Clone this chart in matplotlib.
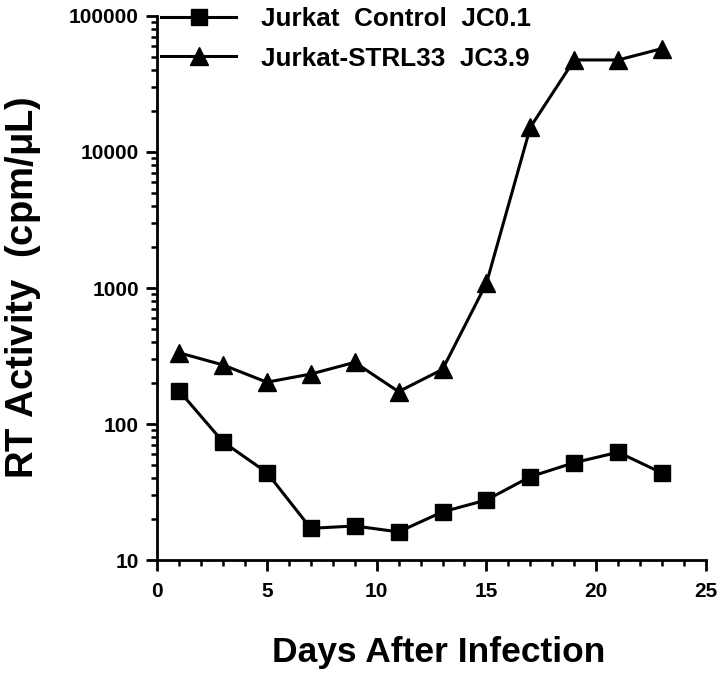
import matplotlib.pyplot as plt
import numpy as np
from matplotlib.ticker import LogLocator, MultipleLocator, FuncFormatter

plt.rcParams['font.family'] = ['Liberation Sans', 'DejaVu Sans']
plt.rcParams['font.weight'] = 'bold'

days = [1, 3, 5, 7, 9, 11, 13, 15, 17, 19, 21, 23]
control = [176, 74, 44, 17.1, 17.8, 16.1, 22.6, 27.6, 41, 52, 62, 43.6]
strl33 = [334, 272, 203, 233, 284, 173, 252, 1083, 15200, 47500, 47500, 57600]
labels = ['Jurkat  Control  JC0.1', 'Jurkat-STRL33  JC3.9']

fig = plt.figure(figsize=(7.2, 6.74), dpi=100)
ax = fig.add_axes([0.2181, 0.1691, 0.7625, 0.8072])

ax.plot(days, control, color='black', lw=2.2, marker='s', ms=12, label=labels[0])
ax.plot(days, strl33, color='black', lw=2.2, marker='^', ms=13, label=labels[1])

ax.set_yscale('log')
ax.set_xlim(0, 25)
ax.set_ylim(10, 100000)
ax.xaxis.set_major_locator(MultipleLocator(5))
ax.xaxis.set_minor_locator(MultipleLocator(1))
ax.yaxis.set_major_locator(LogLocator(base=10))
ax.yaxis.set_minor_locator(LogLocator(base=10, subs=np.arange(2, 10)))
ax.yaxis.set_major_formatter(FuncFormatter(lambda v, p: '%d' % v))
ax.yaxis.set_minor_formatter(FuncFormatter(lambda v, p: ''))

for s in ['top', 'right']:
    ax.spines[s].set_visible(False)
for s in ['left', 'bottom']:
    ax.spines[s].set_linewidth(2)
ax.tick_params(which='major', length=8, width=2, labelsize=15)
ax.tick_params(axis='y', which='major', pad=5)
ax.tick_params(axis='x', which='major', pad=8)
ax.tick_params(which='minor', length=4.5, width=1.8)
for t in ax.get_xticklabels() + ax.get_yticklabels():
    t.set_fontweight('bold')

ax.set_xlabel('Days After Infection', fontsize=25.5, fontweight='bold')
ax.xaxis.set_label_coords(0.513, -0.14)
ax.set_ylabel('RT Activity  (cpm/$\\mathregular{\\mu}$L)', fontsize=27.5, fontweight='bold')
ax.yaxis.set_label_coords(-0.207, 0.5)

leg = ax.legend(loc='upper left', bbox_to_anchor=(-0.036, 1.059), frameon=False,
                fontsize=18.8, handlelength=2.9, handletextpad=0.95, labelspacing=0.58)
for t in leg.get_texts():
    t.set_fontweight('bold')

fig.savefig('out.png', dpi=100)
